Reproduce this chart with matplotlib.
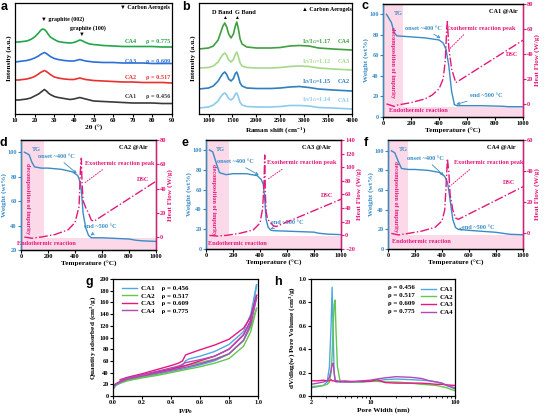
import matplotlib
matplotlib.use('Agg')
import matplotlib.pyplot as plt
from matplotlib.ticker import NullFormatter

plt.rcParams['font.family'] = ['Liberation Serif', 'DejaVu Sans']
plt.rcParams['font.weight'] = 'bold'
plt.rcParams['axes.labelweight'] = 'bold'
plt.rcParams['mathtext.fontset'] = 'custom'
plt.rcParams['mathtext.rm'] = 'Liberation Serif:bold'
plt.rcParams['mathtext.it'] = 'Liberation Serif:italic:bold'
plt.rcParams['mathtext.bf'] = 'Liberation Serif:bold'
plt.rcParams['axes.linewidth'] = 0.9
plt.rcParams['xtick.major.size'] = 2
plt.rcParams['ytick.major.size'] = 2
plt.rcParams['xtick.minor.size'] = 1.2
plt.rcParams['xtick.major.width'] = 0.8
plt.rcParams['ytick.major.width'] = 0.8
plt.rcParams['xtick.major.pad'] = 1.2
plt.rcParams['ytick.major.pad'] = 1.0

# ---- data ----
samples = ['CA1', 'CA2', 'CA3', 'CA4']
densities = ['0.456', '0.517', '0.609', '0.775']

# (a) XRD, stacked intensity (a.u.)
two_theta = [10, 12, 14, 16, 18, 20, 22, 23, 24, 25, 26, 27, 28, 30, 32, 35, 38, 40,
             42, 43, 44, 46, 48, 50, 55, 60, 65, 70, 75, 80, 85, 90]
xrd_ca1 = [14, 14, 14.5, 15, 16, 18, 20, 21.5, 23, 24.5, 23, 21, 19.5, 17.5, 16.5, 15.5, 14.5, 15,
           16, 16.5, 16, 15, 14, 13, 12.5, 12, 11.5, 11, 11, 11, 10.5, 10.5]
xrd_ca2 = [34, 34, 34.5, 35, 36, 37.5, 40, 41.5, 42.5, 43.5, 42.5, 41, 39.5, 37, 36, 35, 34.5, 34.5,
           35.5, 36, 35.5, 34.5, 34, 33.5, 33, 32.5, 32, 32, 31.5, 31.5, 31.5, 31]
xrd_ca3 = [52, 52.5, 53, 53.5, 54.5, 56, 58, 59.5, 60.5, 61.5, 60.5, 59, 57.5, 55.5, 54.5, 53.5, 53, 53,
           54, 54.5, 54, 53, 52.5, 52, 51.5, 51.5, 51, 51, 51, 50.5, 50.5, 50.5]
xrd_ca4 = [72, 72, 72.5, 73, 74.5, 77, 81, 83.5, 85, 84.5, 82.5, 79.5, 77, 74.5, 72.5, 71.5, 71, 71.5,
           73, 74, 73.5, 71.5, 70, 69.5, 68.5, 68, 67.5, 67.5, 67.5, 67.5, 67, 67]
xrd_colors = ['#3a3a3a', '#e8312f', '#2d6fd6', '#22a64a']

# (b) Raman, shape above each baseline
raman_shift = [800, 1000, 1100, 1200, 1250, 1300, 1340, 1380, 1420, 1470, 1520, 1560, 1590, 1620,
               1660, 1700, 1800, 2000, 2300, 2500, 2700, 2900, 3100, 3300, 3600, 4000]
raman_ca1 = [1, 2, 4, 8, 12, 15, 16, 14, 10.5, 9, 11, 15, 16, 12.5, 6.5, 4, 2.5, 2, 2, 2.5, 3.5, 3.5, 3, 1.5, 1, 0]
raman_ca2 = [2, 3, 5, 10, 14, 17.5, 19, 16.5, 12, 10, 12.5, 17.5, 19, 15, 8, 5, 3, 2.5, 2.5, 3, 4, 4.5, 3.5, 2, 1, 0]
raman_ca3 = [2, 2.5, 4, 8, 12, 15.5, 17, 14.5, 10, 8, 10.5, 15.5, 18, 14, 7, 4, 2.5, 2, 2, 2.5, 3.5, 4, 3.5, 2, 1, 0]
raman_ca4 = [1, 2, 4, 10, 17, 24, 27, 23, 16, 12, 16, 24, 28, 22, 11, 6, 3, 2, 2, 2.5, 4, 4.5, 4, 2, 1, 0]
raman_offsets = [5, 23, 44, 64]
id_ig = ['1.14', '1.15', '1.12', '1.17']
raman_colors = ['#8ccbee', '#2f7fbf', '#a5d98a', '#3ea040']

# (c-f) TG / DSC in air
c_temp = [25, 60, 80, 100, 200, 300, 400, 430, 450, 470, 490, 510, 530, 700, 850, 900, 1000]
c_weight = [100, 92, 82, 79, 78, 77, 75, 72, 66, 50, 25, 12, 11, 11, 10.5, 10, 10]
c_dsc_temp = [25, 80, 100, 200, 300, 350, 400, 430, 445, 455, 460, 470, 490, 520, 1000]
c_dsc = [0, -2, -1, 1, 4, 7, 12, 20, 35, 60, 66, 45, 28, 17, 51]

d_temp = [25, 60, 80, 100, 150, 200, 300, 380, 420, 440, 450, 460, 480, 500, 520, 600, 700, 800, 850, 900, 1000]
d_weight = [100, 98, 92, 88, 87, 87, 86, 84, 81, 75, 65, 50, 38, 32, 30, 30, 29.5, 29, 28, 27.5, 27]
d_dsc_temp = [25, 80, 150, 250, 350, 400, 430, 440, 447, 452, 460, 480, 500, 520, 540, 1000]
d_dsc = [0, -1, 0, 2, 6, 12, 25, 55, 65, 45, 30, 24, 20, 14, 13, 46]

e_temp = [25, 50, 80, 100, 150, 200, 300, 380, 410, 425, 435, 445, 460, 480, 500, 600, 700, 800, 830, 900, 1000]
e_weight = [100, 98, 85, 77, 75, 76, 76, 74, 70, 65, 50, 30, 22, 19, 18.5, 18, 17.5, 17, 16, 15, 14.5]
e_dsc_temp = [25, 80, 150, 250, 350, 400, 420, 430, 435, 440, 445, 455, 470, 500, 520, 1000]
e_dsc = [0, -1, 0, 3, 8, 18, 40, 80, 118, 60, 35, 25, 20, 14, 13, 53]

f_temp = [25, 50, 80, 100, 150, 200, 300, 380, 420, 440, 450, 465, 480, 500, 520, 600, 700, 800, 850, 900, 1000]
f_weight = [100, 98, 88, 82, 81, 81, 80, 78, 74, 68, 60, 45, 30, 22, 20, 19, 18, 17, 16, 15, 14.5]
f_dsc_temp = [25, 80, 150, 250, 350, 400, 420, 430, 440, 450, 460, 480, 500, 520, 1000]
f_dsc = [0, -1, 0, 1.5, 4, 8, 15, 30, 48, 40, 25, 15, 10, 9, 30]

# (g) N2 isotherms
p_ads = [0.005, 0.02, 0.05, 0.1, 0.2, 0.3, 0.4, 0.5, 0.6, 0.7, 0.8, 0.9, 0.95, 0.99]
p_des = [0.99, 0.95, 0.9, 0.8, 0.7, 0.6, 0.52, 0.5, 0.48, 0.45, 0.4, 0.3, 0.2, 0.1, 0.05]
ads_ca1 = [13, 18, 22, 27, 32, 37, 42, 47, 53, 60, 72, 95, 125, 190]
des_ca1 = [190, 140, 110, 88, 76, 68, 63, 60, 53, 50, 46, 40, 34, 28, 24]
ads_ca2 = [16, 19, 22, 26, 31, 35, 40, 45, 50, 56, 64, 85, 110, 150]
des_ca2 = [150, 118, 95, 72, 63, 57, 53, 52, 50, 47, 44, 38, 33, 28, 25]
ads_ca3 = [18, 21, 25, 30, 36, 41, 46, 52, 60, 68, 80, 104, 130, 172]
des_ca3 = [172, 135, 116, 97, 87, 79, 72, 70, 60, 56, 52, 45, 38, 32, 28]
ads_ca4 = [17, 20, 24, 29, 34, 39, 44, 49, 55, 62, 72, 95, 122, 168]
des_ca4 = [168, 128, 105, 80, 68, 62, 58, 57, 54, 51, 48, 42, 36, 31, 27]
bet_colors = ['#4ea9e3', '#63c64d', '#e8177e', '#b04ab8']

# (h) pore size distribution
pore_w = [2.0, 2.4, 2.8, 3.1, 3.3, 3.45, 3.55, 3.65, 3.75, 3.85, 3.95, 4.1, 4.4, 5.0, 6.0, 8.0,
          10, 12, 15, 20, 30, 40, 50, 60, 70, 80, 100]
psd_ca1 = [0.07, 0.08, 0.09, 0.12, 0.25, 0.6, 0.93, 0.55, 0.2, 0.13, 0.12, 0.12, 0.12, 0.13, 0.12, 0.12,
           0.13, 0.13, 0.14, 0.145, 0.14, 0.135, 0.13, 0.12, 0.11, 0.09, 0.06]
psd_ca2 = [0.08, 0.085, 0.09, 0.1, 0.12, 0.2, 0.35, 0.6, 0.78, 0.82, 0.55, 0.25, 0.13, 0.12, 0.12, 0.12,
           0.125, 0.125, 0.12, 0.12, 0.11, 0.1, 0.095, 0.09, 0.08, 0.07, 0.045]
psd_ca3 = [0.13, 0.13, 0.135, 0.13, 0.13, 0.14, 0.13, 0.13, 0.13, 0.125, 0.125, 0.125, 0.125, 0.125, 0.125, 0.125,
           0.125, 0.14, 0.115, 0.11, 0.11, 0.11, 0.105, 0.1, 0.1, 0.095, 0.09]
psd_ca4 = [0.1, 0.11, 0.12, 0.13, 0.16, 0.22, 0.27, 0.28, 0.2, 0.14, 0.13, 0.13, 0.12, 0.12, 0.12, 0.13,
           0.135, 0.145, 0.155, 0.165, 0.16, 0.15, 0.13, 0.12, 0.11, 0.09, 0.07]

fs_tick = 4.6
fs_lab = 5.2
fs_ann = 4.5
tg_c = '#3a8cc6'
dsc_c = '#e3187c'
shade = '#fbd9e9'

W, H = 546, 417
fig = plt.figure(figsize=(W / 100, H / 100), dpi=100)


def rect(l, t, r, b):
    return [l / W, 1 - b / H, (r - l) / W, (b - t) / H]


def letter(x, y, s):
    fig.text(x / W, 1 - y / H, s, fontsize=9, fontweight='bold',
             family='Liberation Sans', va='top', ha='left')


# ---- (a) XRD ----
ax = fig.add_axes(rect(15, 3, 172, 114))
for ys, col in zip([xrd_ca1, xrd_ca2, xrd_ca3, xrd_ca4], xrd_colors):
    ax.plot(two_theta, ys, color=col, lw=1.2)
ax.set_xlim(10, 90)
ax.set_ylim(0, 111)
ax.set_xticks(range(10, 91, 10))
ax.set_yticks([])
ax.tick_params(labelsize=fs_tick)
ax.set_xlabel('2θ (°)', fontsize=fs_lab, labelpad=1)
ax.set_ylabel('Intensity (a.u.)', fontsize=fs_lab, labelpad=2)
xrd_label_y = [17.3, 36.3, 52.3, 72.3]
for s, d, col, y in zip(samples, densities, xrd_colors, xrd_label_y):
    ax.text(66, y, s, color=col, fontsize=fs_ann, va='center')
    ax.text(89, y, 'ρ = ' + d, color=col, fontsize=fs_ann, va='center', ha='right')
ax.text(23, 95, '▼ graphite (002)', fontsize=fs_ann - 0.3, va='center')
ax.text(47, 85.5, 'graphite (100)', fontsize=fs_ann - 0.3, va='center', ha='center')
ax.text(44, 79.5, '▼', fontsize=fs_ann - 0.3, va='center', ha='center')
ax.text(76, 106.5, '▼ Carbon Aerogels', fontsize=fs_ann - 0.3, va='center', ha='center')
letter(1, 1, 'a')

# ---- (b) Raman ----
ax = fig.add_axes(rect(199, 3, 352, 114))
for ys, off, col in zip([raman_ca1, raman_ca2, raman_ca3, raman_ca4], raman_offsets, raman_colors):
    ax.plot(raman_shift, [v + off for v in ys], color=col, lw=1.2)
ax.set_xlim(800, 4000)
ax.set_ylim(0, 111)
ax.set_xticks(range(1000, 4001, 500))
ax.set_yticks([])
ax.tick_params(labelsize=fs_tick)
ax.set_xlabel('Raman shift (cm$^{-1}$)', fontsize=fs_lab, labelpad=1)
ax.set_ylabel('Intensity (a.u.)', fontsize=fs_lab, labelpad=2)
raman_label_y = [14, 32.3, 52.3, 72.3]
for s, r, col, y in zip(samples, id_ig, raman_colors, raman_label_y):
    ax.text(2950, y, 'I$_D$/I$_G$=' + r, color=col, fontsize=fs_ann, va='center')
    ax.text(3960, y, s, color=col, fontsize=fs_ann, va='center', ha='right')
ax.text(1275, 101, 'D Band', fontsize=fs_ann, va='center', ha='center')
ax.text(1760, 101, 'G Band', fontsize=fs_ann, va='center', ha='center')
ax.text(1340, 96, '▲', fontsize=fs_ann - 1, va='center', ha='center')
ax.text(1590, 96, '▲', fontsize=fs_ann - 1, va='center', ha='center')
ax.text(3480, 104, '▲ Carbon Aerogels', fontsize=fs_ann - 0.3, va='center', ha='center')
letter(182, 1, 'b')


# ---- (c-f) TG / DSC ----
def tga_panel(box, temp, weight, dsc_t, dsc, wlim, wticks, hlim, hticks, span_end, band_top, title, pos):
    ax = fig.add_axes(rect(*box))
    ax.axvspan(0, span_end, color=shade, lw=0, zorder=0)
    ax.axhspan(wlim[0], band_top, color=shade, lw=0, zorder=0)
    ax.plot(temp, weight, color=tg_c, lw=1.0, zorder=3)
    ax.set_xlim(0, 1000)
    ax.set_ylim(*wlim)
    ax.set_xticks(range(0, 1001, 200))
    ax.set_yticks(wticks)
    ax.tick_params(labelsize=fs_tick)
    ax.tick_params(axis='y', colors=tg_c)
    ax.set_xlabel('Temperature (°C)', fontsize=fs_lab, labelpad=1)
    ax.set_ylabel('Weight (wt%)', fontsize=fs_lab, color=tg_c, labelpad=0.5)
    ax2 = ax.twinx()
    ax2.plot(dsc_t, dsc, color=dsc_c, lw=1.0, ls='-.', zorder=3)
    ax2.set_ylim(*hlim)
    ax2.set_yticks(hticks)
    ax2.tick_params(labelsize=fs_tick, axis='y', colors=dsc_c)
    ax2.set_ylabel('Heat Flow (W/g)', fontsize=fs_lab, color=dsc_c, labelpad=0.5)
    ax2.spines['left'].set_color(tg_c)
    ax2.spines['right'].set_color(dsc_c)
    tr = ax.transAxes
    ax.text(*pos['tg'], 'TG', color=tg_c, fontsize=fs_ann, transform=tr, ha='center', va='center')
    ax.text(*pos['title'], title, fontsize=fs_ann, transform=tr, ha='center', va='center')
    ax.annotate('onset ~400 °C', xy=pos['onset_xy'], xytext=pos['onset'], textcoords='axes fraction',
                color=tg_c, fontsize=fs_ann, ha='center', va='center',
                arrowprops=dict(arrowstyle='->', color=tg_c, lw=0.6, shrinkA=1, shrinkB=1))
    ax.annotate('end ~500 °C', xy=pos['end_xy'], xytext=pos['end'], textcoords='axes fraction',
                color=tg_c, fontsize=fs_ann, ha='center', va='center',
                arrowprops=dict(arrowstyle='->', color=tg_c, lw=0.6, shrinkA=1, shrinkB=1))
    ax2.text(*pos['exo'], 'Exothermic reaction peak', color=dsc_c, fontsize=fs_ann, transform=tr,
             ha='center', va='center')
    ax2.annotate('', xy=pos['exo_from'], xytext=pos['exo_to'], textcoords='axes fraction',
                 arrowprops=dict(arrowstyle='-', color=dsc_c, lw=0.7, ls=':'))
    ax2.text(*pos['dsc'], 'DSC', color=dsc_c, fontsize=fs_ann, transform=tr, ha='center', va='center')
    ax2.text(*pos['endo'], 'Endothermic reaction', color=dsc_c, fontsize=fs_ann, transform=tr,
             ha='center', va='center')
    ax2.text(*pos['decomp'], 'decomposition of impurity', color=dsc_c, fontsize=fs_ann, transform=tr,
             ha='center', va='center', rotation=-90)
    return ax


tga_panel((383, 4, 523, 117), c_temp, c_weight, c_dsc_temp, c_dsc, (0, 110), range(0, 101, 20),
          (-10.5, 80), range(0, 81, 20), 140, 9.7, 'CA1 @Air',
          dict(tg=(0.107, 0.92), title=(0.86, 0.93), onset=(0.29, 0.785), onset_xy=(420, 76),
               exo=(0.70, 0.785), exo_from=(466, 43), exo_to=(0.59, 0.745), dsc=(0.92, 0.55),
               end=(0.74, 0.19), end_xy=(515, 12), endo=(0.25, 0.06), decomp=(0.07, 0.48)))
letter(362, 0, 'c')

tga_panel((21, 140, 156, 250), d_temp, d_weight, d_dsc_temp, d_dsc, (20, 110), range(20, 101, 20),
          (-10.7, 80), range(0, 81, 20), 170, 30, 'CA2 @Air',
          dict(tg=(0.116, 0.91), title=(0.83, 0.93), onset=(0.264, 0.85), onset_xy=(420, 82),
               exo=(0.733, 0.79), exo_from=(452, 43), exo_to=(0.62, 0.745), dsc=(0.906, 0.64),
               end=(0.585, 0.21), end_xy=(510, 31), endo=(0.19, 0.055), decomp=(0.05, 0.47)))
letter(0, 137, 'd')

tga_panel((206, 140, 341, 249), e_temp, e_weight, e_dsc_temp, e_dsc, (0, 110), range(0, 101, 20),
          (-20, 140), range(-20, 141, 20), 170, 13.6, 'CA3 @Air',
          dict(tg=(0.104, 0.91), title=(0.82, 0.93), onset=(0.215, 0.80), onset_xy=(400, 74),
               exo=(0.71, 0.79), exo_from=(440, 80), exo_to=(0.58, 0.745), dsc=(0.894, 0.49),
               end=(0.60, 0.24), end_xy=(470, 20), endo=(0.23, 0.046), decomp=(0.054, 0.45)))
letter(182, 137, 'e')

tga_panel((388, 140, 523, 249), f_temp, f_weight, f_dsc_temp, f_dsc, (0, 111), range(0, 101, 20),
          (-10, 60), range(0, 61, 20), 150, 14.6, 'CA4 @Air',
          dict(tg=(0.116, 0.91), title=(0.84, 0.93), onset=(0.277, 0.83), onset_xy=(420, 74),
               exo=(0.746, 0.79), exo_from=(455, 30), exo_to=(0.62, 0.745), dsc=(0.894, 0.61),
               end=(0.67, 0.20), end_xy=(520, 20), endo=(0.25, 0.065), decomp=(0.054, 0.48)))
letter(364, 137, 'f')

# ---- (g) isotherms ----
ax = fig.add_axes(rect(113, 279, 258, 396))
ads = [ads_ca1, ads_ca2, ads_ca3, ads_ca4]
des = [des_ca1, des_ca2, des_ca3, des_ca4]
for s, d, a, b, col in zip(samples, densities, ads, des, bet_colors):
    ax.plot(p_ads, a, color=col, lw=1.0, label=s + '    ρ = ' + d)
    ax.plot(p_des, b, color=col, lw=1.0)
ax.set_xlim(0, 1.0)
ax.set_ylim(0, 200)
ax.set_xticks([0.0, 0.2, 0.4, 0.6, 0.8, 1.0])
ax.set_yticks(range(0, 201, 20))
ax.tick_params(labelsize=fs_tick)
ax.set_xlabel('P/P$_0$', fontsize=fs_lab, labelpad=1)
ax.set_ylabel('Quantity adsorbed (cm$^3$/g)', fontsize=fs_lab, labelpad=1)
ax.legend(loc='upper left', bbox_to_anchor=(0.02, 1.0), frameon=False, fontsize=fs_ann + 0.5,
          handlelength=2.2, labelspacing=0.25, handletextpad=0.5)
letter(86, 276, 'g')

# ---- (h) pore size distribution ----
ax = fig.add_axes(rect(311, 279, 455, 396))
for s, ys, col in zip(samples, [psd_ca1, psd_ca2, psd_ca3, psd_ca4], bet_colors):
    ax.plot(pore_w, ys, color=col, lw=1.0, label=s)
ax.set_xscale('log')
ax.set_xlim(2, 100)
ax.set_ylim(0, 1.0)
ax.set_xticks([2, 10, 100])
ax.set_xticklabels(['2', '10', '100'])
ax.xaxis.set_minor_formatter(NullFormatter())
ax.set_yticks([0.0, 0.2, 0.4, 0.6, 0.8, 1.0])
ax.tick_params(labelsize=fs_tick)
ax.set_xlabel('Pore Width (nm)', fontsize=fs_lab, labelpad=1)
ax.set_ylabel('dV/dlog(w) Pore Volume (cm$^3$/g)', fontsize=fs_lab, labelpad=1)
leg = ax.legend(loc='upper left', bbox_to_anchor=(0.72, 0.99), frameon=False, fontsize=fs_ann + 0.5,
                handlelength=2.2, labelspacing=0.25, handletextpad=0.5)
for i, d in enumerate(densities):
    ax.text(0.72, 0.925 - i * 0.068, 'ρ = ' + d, transform=ax.transAxes, fontsize=fs_ann + 0.5,
            ha='right', va='center')
letter(274, 276, 'h')

fig.savefig('out.png', dpi=100)
